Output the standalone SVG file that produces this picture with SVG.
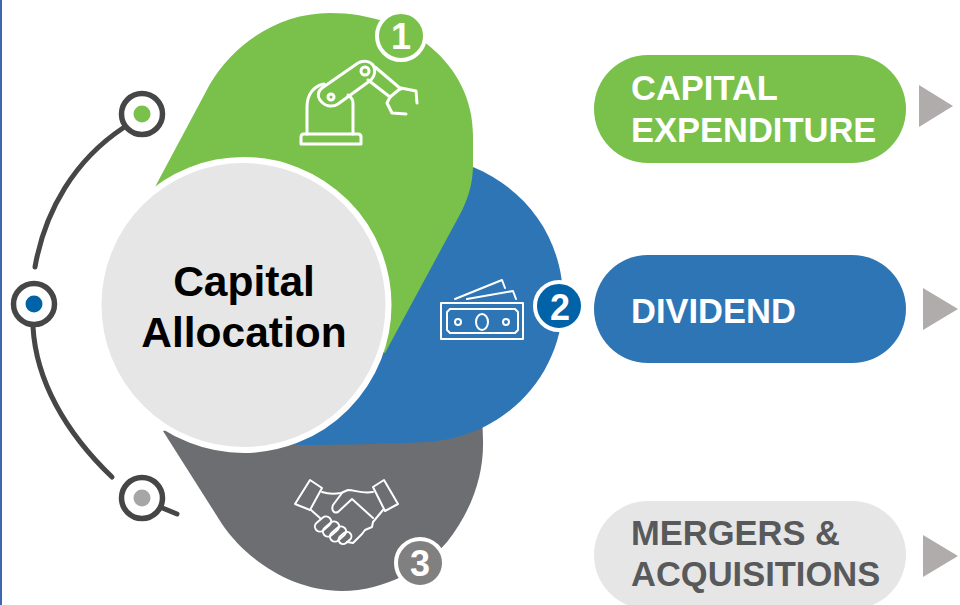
<svg xmlns="http://www.w3.org/2000/svg" width="960" height="605" viewBox="0 0 960 605">
<style>
text{font-family:"Liberation Sans",Arial,sans-serif;font-weight:700}
.pt{font-size:34.500px;fill:#fff}
.ic{fill:none;stroke:#fff;stroke-width:3;stroke-linejoin:round;stroke-linecap:round}
.ic2{fill:none;stroke:#fff;stroke-width:2;stroke-linejoin:round;stroke-linecap:round}
.ring{fill:#fff;stroke:#464646;stroke-width:5.500}
.arc{fill:none;stroke:#464646;stroke-width:5;stroke-linecap:round}
.num{font-size:36px;fill:#fff;text-anchor:middle}
.badge{stroke:#fff;stroke-width:4}
.tri{fill:#b1acac}
</style>
<rect x="0" y="0" width="960" height="605" fill="#fff"/>
<rect x="0" y="0" width="2" height="605" fill="#3f67b1"/>
<g id="segment-3">
<path d="M163 431 L222 524 C245 558 290 591 342 591 C385 591 425 568 447 542 C472 510 484 475 483 440 L482 410 L300 400 Z" fill="#6d6e71"/>
<g class="ic2">
<path d="M310 480 L322 488 L310 510 L295 504 Z"/>
<path d="M384 480 L373 487 L385 511 L398 504 Z"/>
<path d="M322 492 C328 494 335 494 341 493 L348 490 C355 490 362 494 373 492"/>
<path d="M342 493 L333 505 C331 510 334 514 338 512 L352 499 L373 518"/>
<path d="M383 510 L373 522 L372 527 L365 530 L362 534 L358 538 L353 543 L347 542"/>
<path d="M311 510 L320 518"/>
<rect x="-5" y="-9" width="10" height="18" rx="5" transform="translate(323 524) rotate(50)"/>
<rect x="-5" y="-9" width="10" height="18" rx="5" transform="translate(331 529) rotate(50)"/>
<rect x="-5" y="-9" width="10" height="18" rx="5" transform="translate(338 534) rotate(50)"/>
<rect x="-4.500" y="-7" width="9" height="14" rx="4.500" transform="translate(345 538) rotate(50)"/>
</g>
<circle class="badge" cx="420" cy="563" r="24" fill="#808080"/>
<text class="num" x="420" y="576">3</text>
</g>
<g id="segment-2">
<path d="M473 167 C528 190 563 240 563 300 C563 375 505 437 427 442 C385 444 340 445 296 445 L380 300 Z" fill="#2e75b6"/>
<g class="ic2">
<rect x="441" y="303" width="82" height="36"/>
<path d="M450 309 L515 309 L518 312 L518 330 L515 333 L450 333 L447 330 L447 312 Z"/>
<circle cx="458" cy="322" r="3"/><circle cx="506" cy="322" r="3"/>
<ellipse cx="482" cy="322" rx="6" ry="8"/>
<path d="M455 299 L502 280 L505 288"/>
<path d="M467 299 L513 291 L516 299"/>
</g>
<circle class="badge" cx="559" cy="306" r="24" fill="#0063a8"/>
<text class="num" x="560" y="320">2</text>
</g>
<g id="segment-1">
<path d="M155 187 L210 84 C235 42 280 13 330 13 C410 13 473 65 473 135 L473 165 C473 185 467 202 458 218 L385 353 L300 300 Z" fill="#79c14b"/>
<g class="ic">
<path d="M301 144 L301 137 Q301 134 304 134 L358 134 Q361 134 361 137 L361 144 Z"/>
<path d="M307 134 L307 107 C307 94 314 86 324 84"/>
<path d="M353 134 L353 103 C353 100 351 97 348 95"/>
<path d="M322 88 L358 63 C363 60 370 61 373 65 C376 70 375 76 371 80 L338 104 C332 108 324 106 320 100 C317 96 318 91 322 88 Z"/>
<circle cx="365" cy="71" r="4"/>
<circle cx="331" cy="97" r="3"/>
<path d="M375 67 L401 89"/>
<path d="M368 80 L390 97"/>
<path d="M390 97 L401 88 L416 91 L417 103"/>
<path d="M390 97 L387 103 L392 113 L406 114"/>
</g>
<circle class="badge" cx="401" cy="36" r="24" fill="#79c14b"/>
<text class="num" x="401" y="49">1</text>
</g>
<g id="center">
<circle cx="243.500" cy="305" r="145" fill="#e6e6e6" stroke="#fff" stroke-width="6"/>
<text x="244" y="296" font-size="42.500" text-anchor="middle" fill="#000">Capital</text>
<text x="244" y="347" font-size="42.500" text-anchor="middle" fill="#000">Allocation</text>
</g>
<g id="connectors">
<path class="arc" d="M123 128 C75 160 45 210 35 267"/>
<path class="arc" d="M33 327 C36 380 65 432 112 477"/>
<path class="arc" d="M160 507 L177 514"/>
</g>
<g id="marker-1"><circle class="ring" cx="142" cy="114" r="20.500"/><circle cx="142" cy="114" r="8.500" fill="#79c14b"/></g>
<g id="marker-2"><circle class="ring" cx="34" cy="304" r="20.500"/><circle cx="34" cy="304" r="8.500" fill="#0063a8"/></g>
<g id="marker-3"><circle class="ring" cx="142" cy="498" r="20.500"/><circle cx="142" cy="498" r="8.500" fill="#a6a6a6"/></g>
<g id="capital-expenditure">
<rect x="594" y="55" width="312" height="108" rx="54" fill="#79c14b"/>
<text class="pt" x="631" y="100">CAPITAL</text>
<text class="pt" x="631" y="142">EXPENDITURE</text>
<path class="tri" d="M919 85 L953 106 L919 127 Z"/>
</g>
<g id="dividend">
<rect x="594" y="255" width="312" height="108" rx="54" fill="#2e75b6"/>
<text class="pt" x="631" y="323">DIVIDEND</text>
<path class="tri" d="M923 288 L958 309 L923 330 Z"/>
</g>
<g id="mergers">
<rect x="594" y="501" width="312" height="108" rx="54" fill="#e6e6e6"/>
<text class="pt" x="631" y="545" style="fill:#58595b">MERGERS &amp;</text>
<text class="pt" x="631" y="586" style="fill:#58595b">ACQUISITIONS</text>
<path class="tri" d="M923 535 L958 556 L923 577 Z"/>
</g>
</svg>
